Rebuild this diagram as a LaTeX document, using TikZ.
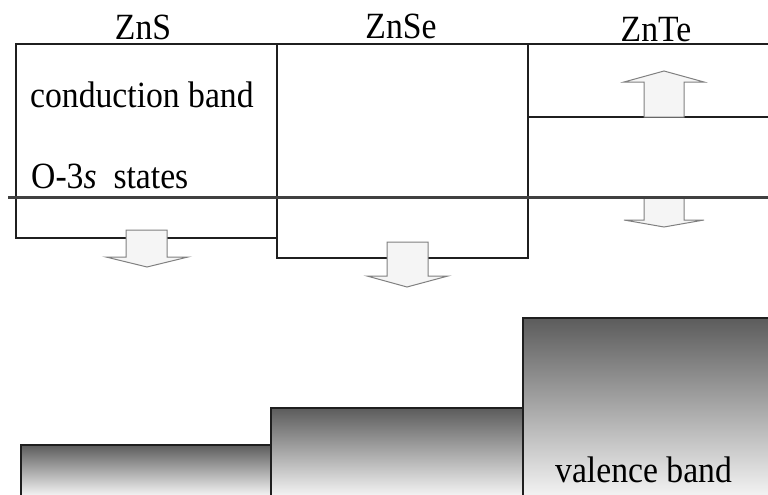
\documentclass[tikz,border=0pt]{standalone}
\usepackage{fontspec}
\setmainfont{Liberation Serif}[FakeStretch=0.91]
\begin{document}
\begin{tikzpicture}[x=1pt,y=-1pt,
  bandline/.style={draw=black!88, line width=1.3pt},
  fermiline/.style={draw=black!75, line width=3pt},
  blockarrow/.style={draw=black!50, line width=1pt, fill=black!4, line join=miter},
  vbfill/.style={top color=black!64, middle color=black!24, bottom color=black!5},
  lbl/.style={inner sep=0pt, font=\fontsize{37}{42}\selectfont},
]
\useasboundingbox (0,0) rectangle (768,495);
% valence bands
\path[vbfill] (21,445) rectangle (271,495);
\path[vbfill] (271,408) rectangle (523,495);
\path[vbfill] (523,318) rectangle (768,495);
\draw[bandline] (21,495) -- (21,445) -- (271,445);
\draw[bandline] (271,495) -- (271,408) -- (523,408);
\draw[bandline] (523,495) -- (523,318) -- (768,318);
% conduction bands
\draw[bandline] (16,44) rectangle (277,238);
\draw[bandline] (277,44) rectangle (528,258);
\draw[bandline] (528,44) -- (768,44);
\draw[bandline] (528,117) -- (768,117);
% block arrows
\draw[blockarrow] (126,230) -- (167,230) -- (167,257) -- (188,257) -- (147,267) -- (106,257) -- (126,257) -- cycle;
\draw[blockarrow] (387,242) -- (428,242) -- (428,276) -- (448,276) -- (407,287) -- (367,276) -- (387,276) -- cycle;
\draw[blockarrow] (644,117) -- (684,117) -- (684,82) -- (704,82) -- (664,71) -- (624,82) -- (644,82) -- cycle;
\draw[blockarrow] (644,197) -- (684,197) -- (684,220) -- (704,220) -- (664,227) -- (624,220) -- (644,220) -- cycle;
% O-3s level
\draw[fermiline] (8,197) -- (768,197);
% labels
\node[lbl, anchor=base] (zns) at (143,40) {ZnS};
\node[lbl, anchor=base] (znse) at (401,38) {ZnSe};
\node[lbl, anchor=base] (znte) at (656,42) {ZnTe};
\node[lbl, anchor=base west] (cb) at (30,107) {conduction band};
\node[lbl, anchor=base west] (o3s) at (31,188) {O-3\textit{s}\ \ states};
\node[lbl, anchor=base west] (vb) at (555,482) {valence band};
\end{tikzpicture}
\end{document}
